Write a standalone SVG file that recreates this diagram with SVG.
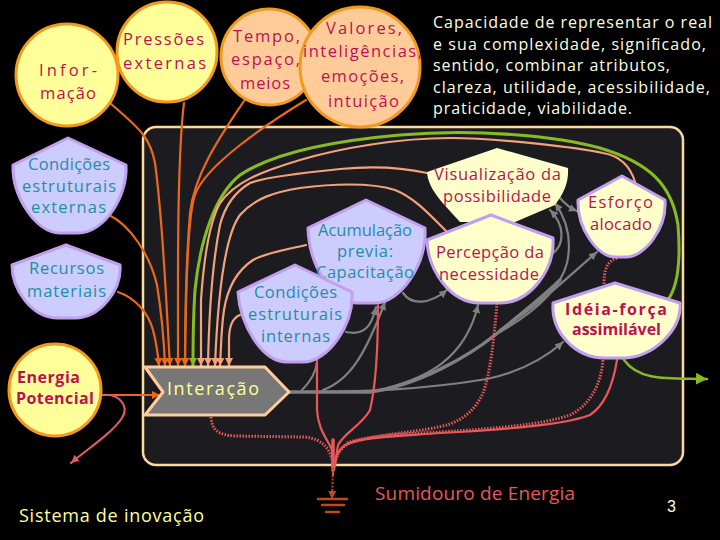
<svg xmlns="http://www.w3.org/2000/svg" width="720" height="540" viewBox="0 0 720 540">
<defs>
<style>
text{font-family:"Open Sans","Liberation Sans",sans-serif;font-size:16.5px}
.b{font-weight:700;font-size:16px}
.cr{fill:#bb1150}
.te{fill:#1d8fa5}
.wh{fill:#ffffe0;font-size:16px}
.ye{fill:#ffff99;font-size:18px}
.circY{fill:#ffff99;stroke:#f39a1e;stroke-width:3}
.circP{fill:#ffcc99;stroke:#f39a1e;stroke-width:3}
.hexB{fill:#ccccff;stroke:#c29fee;stroke-width:3;stroke-linejoin:round}
.hexY{fill:#ffffcc;stroke:#c29fee;stroke-width:3;stroke-linejoin:round}
.l{fill:none;stroke-linecap:round}
.or{stroke:#e8691e;stroke-width:2.2}
.pe{stroke:#f4a27c;stroke-width:2.2}
.gr{stroke:#808080;stroke-width:2.2}
.grT{stroke:#808080;stroke-width:3.5}
.re{stroke:#e8585a;stroke-width:2.2}
.dot{stroke:#e8585a;stroke-width:3;stroke-dasharray:1.5 1.5;stroke-linecap:butt}
</style>
<marker id="mOr" markerUnits="userSpaceOnUse" markerWidth="10" markerHeight="8" refX="8" refY="4" orient="auto"><path d="M0,0L8,4L0,8z" fill="#e8691e"/></marker>
<marker id="mPe" markerUnits="userSpaceOnUse" markerWidth="10" markerHeight="8" refX="8" refY="4" orient="auto"><path d="M0,0L8,4L0,8z" fill="#f4a27c"/></marker>
<marker id="mGn" markerUnits="userSpaceOnUse" markerWidth="12" markerHeight="12" refX="11" refY="6" orient="auto"><path d="M0,0L11,6L0,12z" fill="#88bb22"/></marker>
<marker id="mGnS" markerUnits="userSpaceOnUse" markerWidth="10" markerHeight="8" refX="8" refY="4" orient="auto"><path d="M0,0L8,4L0,8z" fill="#88bb22"/></marker>
<marker id="mGr" markerUnits="userSpaceOnUse" markerWidth="10" markerHeight="8" refX="8" refY="4" orient="auto"><path d="M0,0L8,4L0,8z" fill="#808080"/></marker>
<marker id="mRe" markerUnits="userSpaceOnUse" markerWidth="10" markerHeight="8" refX="8" refY="4" orient="auto"><path d="M0,0L8,4L0,8z" fill="#e8585a"/></marker>
<marker id="mBr" markerUnits="userSpaceOnUse" markerWidth="10" markerHeight="8" refX="8" refY="4" orient="auto"><path d="M0,0L8,4L0,8z" fill="#c0481e"/></marker>
</defs>
<rect width="720" height="540" fill="#000"/>
<rect id="frame" x="143" y="127" width="540" height="338" rx="13" fill="#1c1c20" stroke="#fcd99e" stroke-width="2.5"/>

<g id="connectors">
<g class="l or">
<path marker-end="url(#mOr)" d="M110,103C135,125 150,135 155,163C163,220 166,300 170,366"/>
<path marker-end="url(#mOr)" d="M184,103C180,135 178,200 178,280L178,366"/>
<path marker-end="url(#mOr)" d="M246,98C225,130 195,170 190,213C187,250 185,300 185,366"/>
<path marker-end="url(#mOr)" d="M306,100C270,122 205,165 195,195C188,215 186,280 185,366"/>
<path marker-end="url(#mOr)" d="M109,215C130,225 150,255 157,285C161,310 164,340 165,366"/>
<path marker-end="url(#mOr)" d="M118,292C135,298 148,312 153,330C157,345 158,355 159,366"/>
<path d="M102,395L160,395" marker-end="url(#mOr)"/>
</g>
<g class="l">
<path stroke="#88bb22" stroke-width="3" marker-end="url(#mGnS)" d="M667,301C680,285 680,250 678,225C672,185 650,163 600,148C560,137 480,128 400,135C320,142 270,155 240,175C215,195 200,240 195,290C193,320 193,345 193,366"/>
<path stroke="#88bb22" stroke-width="2.4" marker-end="url(#mGn)" d="M624,360C640,382 670,378 707,379"/>
<path stroke="#e05a62" stroke-width="2.2" marker-end="url(#mRe)" d="M102,395C118,393 130,405 122,418C112,433 90,447 71,463"/>
</g>
<g class="l pe">
<path marker-end="url(#mPe)" d="M635,182C630,165 620,156 603,153C580,148 500,138 450,138C400,138 340,148 300,160C260,172 235,182 220,203C208,225 203,270 201,300L201,366"/>
<path marker-end="url(#mPe)" d="M427,173C400,167 370,166 340,169C300,173 265,177 250,183C235,192 225,205 220,225C212,265 209,310 208,366"/>
<path marker-end="url(#mPe)" d="M447,232C430,215 415,198 395,190C370,182 330,184 300,188C275,192 255,198 240,215C225,235 218,290 215,366"/>
<path marker-end="url(#mPe)" d="M306,245C285,250 265,253 253,260C238,270 228,285 224,310C221,330 221,350 220,366"/>
<path marker-end="url(#mPe)" d="M240,315C232,318 229,328 229,340L229,366"/>
</g>
<g class="l">
<path class="grT" d="M285,392L370,392C420,385 470,355 495,335C520,315 545,295 560,280"/>
<path class="gr" marker-end="url(#mGr)" d="M323,390C350,380 365,355 385,302"/>
<path class="gr" d="M302,390C312,380 316,372 317,362"/>
<path class="gr" marker-end="url(#mGr)" d="M346,332C365,336 372,325 376,307"/>
<path class="gr" marker-end="url(#mGr)" d="M403,293C412,306 430,304 447,290"/>
<path class="gr" marker-end="url(#mGr)" d="M387,388C425,378 465,360 478,305"/>
<path class="gr" marker-end="url(#mGr)" d="M500,330C540,305 570,275 597,252"/>
<path class="gr" marker-end="url(#mGr)" d="M500,332C535,312 560,290 567,263C572,240 567,220 555,203"/>
<path class="gr" marker-end="url(#mGr)" d="M552,254C565,245 565,225 550,210"/>
<path class="gr" marker-end="url(#mGr)" d="M560,198C565,204 570,208 577,211"/>
<path class="gr" marker-end="url(#mGr)" d="M300,392C360,392 420,390 487,379C520,372 545,358 563,342"/>
</g>
<g class="l">
<path class="dot" d="M211,417C212,430 218,435 235,436L305,437C322,439 330,448 333,463"/>
<path class="re" d="M317,353L317,410C318,430 328,440 332,450L333,475"/>
<path class="re" d="M378,305C378,340 376,385 370,410C362,425 345,432 338,445L334,470"/>
<path class="dot" d="M497,303C494,340 490,375 483,393C475,410 465,418 450,424C425,432 380,433 350,443C340,448 336,455 335,465"/>
<path class="re" d="M617,360C613,385 605,405 590,415C565,425 500,430 440,433C400,436 360,437 345,445C338,450 335,458 334,468"/>
<path class="dot" d="M603,360C601,385 590,405 570,415C540,425 500,428 440,432C400,434 365,436 347,443"/>
<path class="dot" d="M617,258C607,261 604,270 604,284"/>
<path stroke="#e8585a" stroke-width="3.5" d="M333,440L333,470"/>
<path stroke="#c0481e" stroke-width="2" stroke-dasharray="2 1.5" marker-end="url(#mBr)" d="M333,468L332,499" stroke-linecap="butt"/>
<path stroke="#c0481e" stroke-width="2.5" d="M318,499H347"/>
<path stroke="#c0481e" stroke-width="2.5" d="M322,505H344"/>
<path stroke="#c0481e" stroke-width="2.5" d="M326,512H339"/>
</g>
</g>

<g id="informacao"><circle class="circY" cx="67" cy="75" r="51"/><text class="cr" x="39" y="76" textLength="58">Infor-</text><text class="cr" x="40" y="99" textLength="56">mação</text></g>
<g id="pressoes"><circle class="circY" cx="167" cy="52" r="50"/><text class="cr" x="123" y="45" textLength="81">Pressões</text><text class="cr" x="123" y="69" textLength="83">externas</text></g>
<g id="tempo"><circle class="circP" cx="269" cy="57" r="48"/><text class="cr" x="233" y="42" textLength="67">Tempo,</text><text class="cr" x="231" y="65" textLength="69">espaço,</text><text class="cr" x="240" y="89" textLength="50">meios</text></g>
<g id="valores"><circle class="circP" cx="360" cy="67" r="60"/><text class="cr" x="326" y="34" textLength="76">Valores,</text><text class="cr" x="303" y="57" textLength="119">inteligências,</text><text class="cr" x="321" y="82" textLength="83">emoções,</text><text class="cr" x="328" y="107" textLength="71">intuição</text></g>

<g id="capacidade">
<text class="wh" x="433" y="28" textLength="279">Capacidade de representar o real</text>
<text class="wh" x="433" y="50" textLength="273">e sua  complexidade, significado,</text>
<text class="wh" x="433" y="71" textLength="237">sentido, combinar atributos,</text>
<text class="wh" x="433" y="93" textLength="277">clareza, utilidade, acessibilidade,</text>
<text class="wh" x="433" y="114" textLength="199">praticidade, viabilidade.</text>
</g>

<g id="cond-ext"><path class="hexB" d="M68,138L126,165C128,195 105,233 78,233H60C35,233 12,195 13,165Z"/><text class="te" x="28" y="170" textLength="82">Condições</text><text class="te" x="22" y="192" textLength="94">estruturais</text><text class="te" x="31" y="213" textLength="75">externas</text></g>
<g id="recursos"><path class="hexB" d="M66,245L120,265C122,290 100,318 75,318H58C32,318 12,290 12,265Z"/><text class="te" x="29" y="274" textLength="75">Recursos</text><text class="te" x="27" y="297" textLength="79">materiais</text></g>
<g id="energia"><circle class="circY" cx="55" cy="390" r="46"/><text class="cr b" x="17" y="383" textLength="63">Energia</text><text class="cr b" x="16" y="404" textLength="78">Potencial</text></g>

<g id="visualizacao"><path fill="#ffffcc" d="M497,148L568,168C569,185 562,195 555,205L515,222H460C445,205 428,190 427,172Z"/><text class="cr" x="434" y="180" textLength="127">Visualização da</text><text class="cr" x="443" y="202" textLength="108">possibilidade</text></g>
<g id="acumulacao"><path class="hexB" d="M366,200L425,228C427,265 400,303 375,303H358C332,303 309,265 308,228Z"/><text class="te" x="318" y="236" textLength="94">Acumulação</text><text class="te" x="337" y="257" textLength="56">previa:</text><text class="te" x="316" y="278" textLength="98">Capacitação</text></g>
<g id="cond-int"><path class="hexB" d="M295,265L352,292C354,325 328,362 303,362H287C262,362 240,325 238,292Z"/><text class="te" x="254" y="298" textLength="83">Condições</text><text class="te" x="248" y="320" textLength="94">estruturais</text><text class="te" x="261" y="342" textLength="69">internas</text></g>
<g id="percepcao"><path class="hexY" d="M491,215L553,238C555,270 530,303 500,303H480C450,303 428,270 427,240Z"/><text class="cr" x="436" y="258" textLength="108">Percepção da</text><text class="cr" x="439" y="280" textLength="100">necessidade</text></g>
<g id="esforco"><path class="hexY" d="M622,176L665,200C667,228 645,257 626,257H616C597,257 577,228 578,200Z"/><text class="cr" x="588" y="208" textLength="65">Esforço</text><text class="cr" x="590" y="230" textLength="62">alocado</text></g>
<g id="ideia"><path class="hexY" d="M615,283L680,303C682,332 650,358 625,358H605C575,358 551,332 553,303Z"/><text class="cr b" x="565" y="315" textLength="102">Idéia-força</text><text class="cr b" x="572" y="335" textLength="89">assimilável</text></g>

<g id="interacao"><path fill="#777" stroke="#ffcc99" stroke-width="3" stroke-linejoin="round" d="M145,367H265L289,392L265,415H145L163,392Z"/><text class="ye" x="167" y="395" textLength="92">Interação</text></g>

<text class="ye" x="19" y="522" textLength="185">Sistema de inovação</text>
<text x="375" y="500" textLength="200" fill="#e8585a" style="font-size:19px">Sumidouro de Energia</text>
<text x="667" y="512" fill="#ffffe0" style="font-family:'Liberation Sans',sans-serif;font-size:16px">3</text>
</svg>
